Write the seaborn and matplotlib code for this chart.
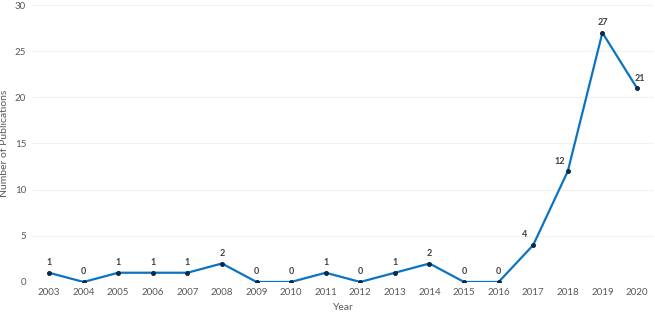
import pandas as pd
import matplotlib.pyplot as plt
import seaborn as sns

years = [2003, 2004, 2005, 2006, 2007, 2008, 2009, 2010, 2011, 2012,
         2013, 2014, 2015, 2016, 2017, 2018, 2019, 2020]
pubs = [1, 0, 1, 1, 1, 2, 0, 0, 1, 0, 1, 2, 0, 0, 4, 12, 27, 21]

df = pd.DataFrame({'year': years, 'pubs': pubs})

sns.set_style('white')
plt.rcParams['font.family'] = ['Lato', 'DejaVu Sans']

fig = plt.figure(figsize=(6.55, 3.14), dpi=100)
ax = fig.add_axes([0.0484, 0.102, 0.9505, 0.882])

sns.lineplot(data=df, x='year', y='pubs', ax=ax, color='#0A74C2', linewidth=1.6,
             marker='o', markersize=2.8, markerfacecolor='#0B2A4A',
             markeredgecolor='#0B2A4A')

for x, y in zip(years, pubs):
    dx = -6 if x in (2017, 2018) else (2 if x == 2020 else 0)
    ax.annotate(str(y), (x, y), xytext=(dx, 4), textcoords='offset points',
                ha='center', va='bottom', fontsize=6.5, fontweight='bold',
                color='#404040')

ax.set_xlim(2002.5, 2020.5)
ax.set_ylim(0, 30)
ax.set_xticks(years)
ax.set_xticklabels([str(y) for y in years])
ax.set_yticks(range(0, 31, 5))
ax.tick_params(axis='both', labelsize=7, colors='#595959', length=0, pad=4)
ax.grid(axis='y', color='#F2F2F2', linewidth=0.8)
for s in ax.spines.values():
    s.set_visible(False)
ax.set_xlabel('Year', fontsize=7.5, color='#595959', labelpad=5)
ax.set_ylabel('Number of Publications', fontsize=7.5, color='#595959', labelpad=4)

fig.savefig('out.png', dpi=100)
